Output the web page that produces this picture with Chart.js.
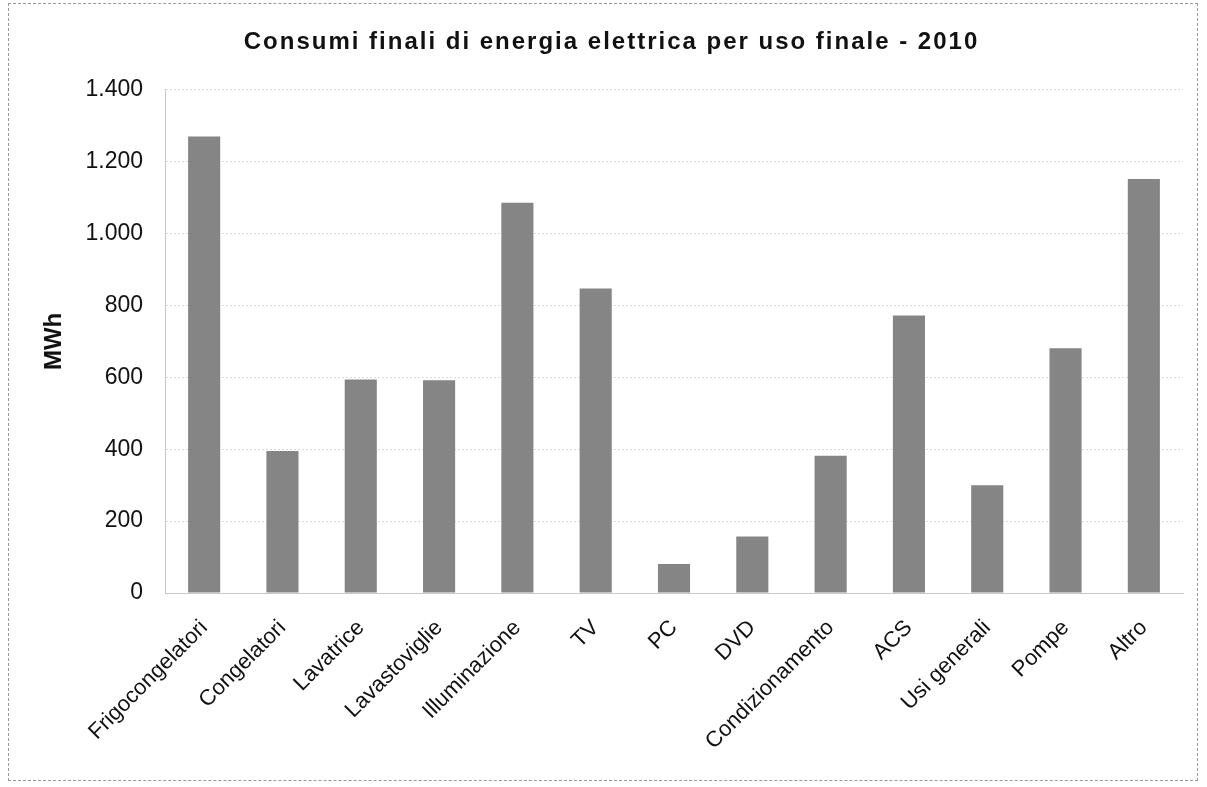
<!DOCTYPE html>
<html>
<head>
<meta charset="utf-8">
<script src="https://cdn.jsdelivr.net/npm/chart.js@4/dist/chart.umd.min.js"></script>
<style>
    html, body { margin: 0; padding: 0; background: #fff; }
    #wrap { position: relative; width: 1207px; height: 787px; }
    #frame { position: absolute; left: 8px; top: 3px; width: 1190px; height: 778px; border: 1px dashed #999; box-sizing: border-box; pointer-events: none; }
</style>
</head>
<body>
<div id="wrap">
    <canvas id="myChart" width="1207" height="787"></canvas>
    <div id="frame"></div>
</div>
<script>
'use strict';

const categories = ['Frigocongelatori', 'Congelatori', 'Lavatrice', 'Lavastoviglie', 'Illuminazione', 'TV', 'PC', 'DVD', 'Condizionamento', 'ACS', 'Usi generali', 'Pompe', 'Altro'];
const consumi = [1270, 395, 594, 592, 1086, 847, 81, 157, 382, 772, 300, 681, 1152];
const yTicks = [0, 200, 400, 600, 800, 1000, 1200, 1400];

const fontFamily = 'Liberation Sans, Arial, sans-serif';

function formatIt(v) {
    return String(v).replace(/\B(?=(\d{3})+(?!\d))/g, '.');
}

// the title in the original is spaced out a bit
const titleSpacing = {
    id: 'titleSpacing',
    beforeDraw: function(chart) {
        let tb = chart.titleBlock;
        if (!tb || tb._spaced) return;
        let orig = tb.draw;
        tb.draw = function() {
            let ctx = this.ctx;
            ctx.save();
            ctx.letterSpacing = '2px';
            orig.apply(this, arguments);
            ctx.restore();
        };
        tb._spaced = true;
    }
};

document.addEventListener('DOMContentLoaded', function() {
    drawChart();
});

function drawChart() {
    let ctx = document.getElementById('myChart').getContext('2d');
    new Chart(ctx, {
        type: 'bar',
        data: {
            labels: categories,
            datasets: [{
                label: 'MWh',
                data: consumi,
                backgroundColor: '#858585',
                borderWidth: 0,
                barPercentage: 0.82,
                categoryPercentage: 0.5
            }]
        },
        plugins: [titleSpacing],
        options: {
            responsive: false,
            animation: false,
            layout: { padding: { left: 40, right: 24, top: 0, bottom: 0 } },
            plugins: {
                legend: { display: false },
                tooltip: { enabled: false },
                title: {
                    display: true,
                    text: 'Consumi finali di energia elettrica per uso finale - 2010',
                    color: '#111',
                    font: { family: fontFamily, size: 24, weight: 'bold' },
                    padding: { top: 28, bottom: 33 }
                }
            },
            scales: {
                x: {
                    grid: { display: false },
                    border: { color: '#c8c8c8' },
                    ticks: {
                        color: '#111',
                        font: { family: fontFamily, size: 22 },
                        minRotation: 45,
                        maxRotation: 45,
                        padding: 14
                    },
                    afterFit: function(scale) { scale.height = 194; }
                },
                y: {
                    min: 0,
                    max: 1400,
                    afterBuildTicks: function(scale) {
                        scale.ticks = yTicks.map(v => ({ value: v }));
                    },
                    grid: { color: '#d9d9d9', drawTicks: false },
                    border: { color: '#c8c8c8', dash: [2, 2] },
                    ticks: {
                        color: '#111',
                        font: { family: fontFamily, size: 23 },
                        padding: 22,
                        callback: function(v) { return formatIt(v); }
                    },
                    title: {
                        display: true,
                        text: 'MWh',
                        color: '#111',
                        font: { family: fontFamily, size: 24, weight: 'bold' },
                        padding: 0
                    },
                    afterFit: function(scale) { scale.width = 125; }
                }
            }
        }
    });
}
</script>
</body>
</html>
